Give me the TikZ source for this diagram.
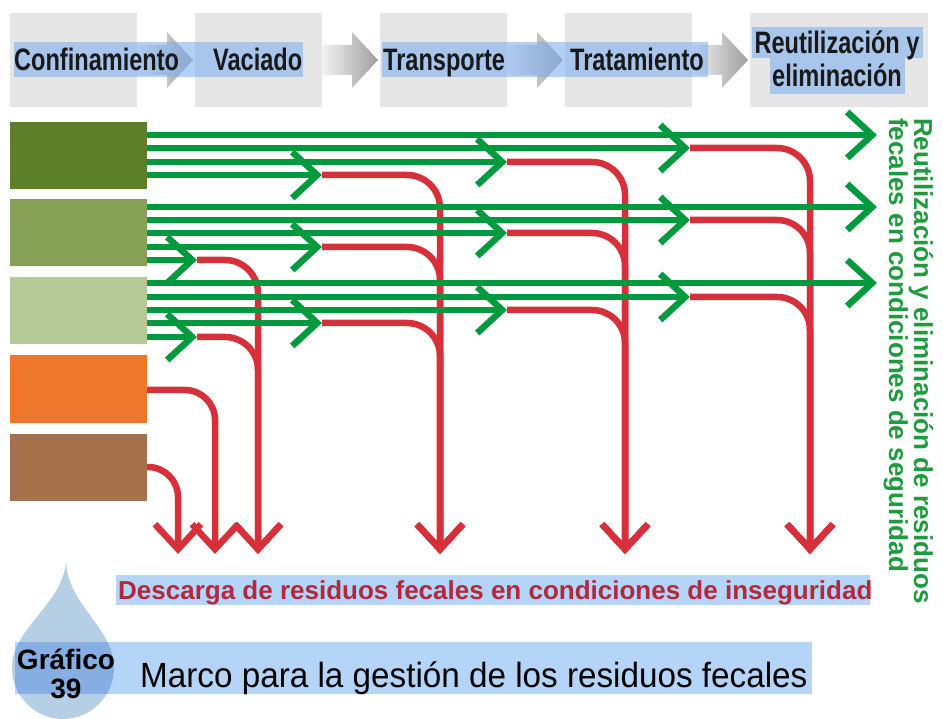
\documentclass[tikz,border=0pt]{standalone}
\usepackage{fontspec}
\setmainfont{Liberation Sans}
\newfontfamily\hdrfont[FakeStretch=0.76]{Liberation Sans}
\newfontfamily\marcofont[FakeStretch=0.95]{Liberation Sans}
\usetikzlibrary{arrows.meta}
\definecolor{hdrgray}{HTML}{E6E6E6}
\definecolor{hlblue}{HTML}{80B0F0}
\definecolor{bandblue}{HTML}{B4D4F8}
\definecolor{dropblue}{HTML}{B5CFE5}
\definecolor{overblue}{HTML}{86AEE3}
\definecolor{gline}{HTML}{009A3E}
\definecolor{rline}{HTML}{D7303A}
\definecolor{gtext}{HTML}{1E9B3C}
\definecolor{rtext}{HTML}{B3283C}
\definecolor{boxA}{HTML}{5E7F2A}
\definecolor{boxB}{HTML}{86A155}
\definecolor{boxC}{HTML}{B5C996}
\definecolor{boxD}{HTML}{EF772D}
\definecolor{boxE}{HTML}{A6714A}
\begin{document}
\begin{tikzpicture}[x=1pt,y=-1pt,
  hbox/.style={fill=hdrgray,inner sep=0pt,minimum height=94pt},
  sbox/.style={inner sep=0pt,minimum width=137pt,minimum height=67pt},
  hdrtext/.style={inner sep=0pt,font=\hdrfont\bfseries\fontsize{31}{31}\selectfont,text=black!90},
  tipg/.style={-{Straight Barb[length=25pt,width=46pt]}},
  gflow/.style={draw=gline,line width=6.5pt,tipg},
  rflow/.style={draw=rline,line width=6.5pt,rounded corners=33pt,tipg},
  harrow/.style={left color=white!90!gray,right color=black!38}
]
\useasboundingbox (0,0) rectangle (943,719);

% header boxes
\node[hbox,minimum width=127pt] (h1) at (73.5,60) {};
\node[hbox,minimum width=127pt] (h2) at (258.5,60) {};
\node[hbox,minimum width=127pt] (h3) at (443.5,60) {};
\node[hbox,minimum width=127pt] (h4) at (628.5,60) {};
\node[hbox,minimum width=178pt] (h5) at (839,60) {};

% header gradient arrows
\foreach \a/\t in {137/193,322/378,507/563,692/748}{
  \shade[harrow] (\a,45) -- (\t-26,45) -- (\t-26,32) -- (\t,60) -- (\t-26,88) -- (\t-26,75) -- (\a,75) -- cycle;
}

% highlights
\fill[hlblue,opacity=0.6] (14,42) rectangle (303,77);
\fill[hlblue,opacity=0.6] (382,42) rectangle (708,77);
\fill[hlblue,opacity=0.6] (752,27) rectangle (923,58);
\fill[hlblue,opacity=0.6] (770,58) rectangle (905,94);

\node[hdrtext,anchor=base west] (t1) at (14,71) {Confinamiento};
\node[hdrtext,anchor=base west] (t2) at (213,71) {Vaciado};
\node[hdrtext,anchor=base west] (t3) at (383,71) {Transporte};
\node[hdrtext,anchor=base west] (t4) at (570,71) {Tratamiento};
\node[hdrtext,anchor=base] (t5a) at (837,54) {Reutilización y};
\node[hdrtext,anchor=base] (t5b) at (837,87) {eliminación};

% left boxes
\node[sbox,fill=boxA] (A) at (78.5,155.5) {};
\node[sbox,fill=boxB] (B) at (78.5,233) {};
\node[sbox,fill=boxC] (C) at (78.5,311) {};
\node[sbox,fill=boxD] (D) at (78.5,389) {};
\node[sbox,fill=boxE] (E) at (78.5,467) {};

% red flows (unsafe)
\foreach \yy/\tx/\vx in {148/690/810,162/507/625,175/322/440,
                         220/690/810,233/507/625,247/322/440,260/197/258,
                         297/690/810,310/507/625,323/322/440,337/197/258}{
  \draw[rflow] (\tx,\yy) -- (\vx,\yy) -- (\vx,554);
}
\draw[rflow,rounded corners=30pt] (D.east) ++(0,1) -- (215,390) -- (215,554);
\draw[rflow,rounded corners=30pt] (E.east) -- (178,467) -- (178,554);

% green flows (safe)
\foreach \yy/\tx in {135/877,148/690,162/507,175/322}{
  \draw[gflow] (A.east |- 0,\yy) -- (\tx,\yy);
}
\foreach \yy/\tx in {207/877,220/690,233/507,247/322,260/197}{
  \draw[gflow] (B.east |- 0,\yy) -- (\tx,\yy);
}
\foreach \yy/\tx in {283/877,297/690,310/507,323/322,337/197}{
  \draw[gflow] (C.east |- 0,\yy) -- (\tx,\yy);
}

% right green label
\node[rotate=-90,anchor=base west,inner sep=0pt,text=gtext,font=\bfseries\fontsize{26}{26}\selectfont] (g1) at (914,118) {Reutilización y eliminación de residuos};
\node[rotate=-90,anchor=base west,inner sep=0pt,text=gtext,font=\bfseries\fontsize{26}{26}\selectfont] (g2) at (889,118) {fecales en condiciones de seguridad};

% red label
\fill[bandblue] (116,575) rectangle (870,605);
\node[anchor=base west,inner sep=0pt,text=rtext,font=\bfseries\fontsize{26}{26}\selectfont] (rl) at (118,599) {Descarga de residuos fecales en condiciones de inseguridad};

% drop and title band
\fill[dropblue] (66,562) .. controls (68,605) and (114,628) .. (114,668)
   .. controls (114,696) and (91,719) .. (63,719)
   .. controls (35,719) and (12,696) .. (12,668)
   .. controls (12,628) and (62,605) .. (66,562) -- cycle;
\fill[bandblue] (15,642) rectangle (812,694);
\begin{scope}
\clip (66,562) .. controls (68,605) and (114,628) .. (114,668)
   .. controls (114,696) and (91,719) .. (63,719)
   .. controls (35,719) and (12,696) .. (12,668)
   .. controls (12,628) and (62,605) .. (66,562) -- cycle;
\fill[overblue] (15,642) rectangle (812,694);
\end{scope}
\node[anchor=base,inner sep=0pt,font=\bfseries\fontsize{28}{28}\selectfont] (gr1) at (66,669) {Gráfico};
\node[anchor=base,inner sep=0pt,font=\bfseries\fontsize{28}{28}\selectfont] (gr2) at (66,698) {39};
\node[anchor=base west,inner sep=0pt,font=\marcofont\fontsize{35}{35}\selectfont] (marco) at (140,687) {Marco para la gestión de los residuos fecales};
\end{tikzpicture}
\end{document}
